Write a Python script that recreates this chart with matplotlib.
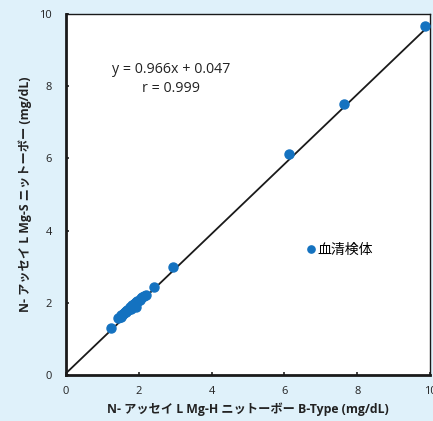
import matplotlib
matplotlib.use("Agg")
import matplotlib.pyplot as plt
import numpy as np

plt.rcParams['font.family'] = ['Open Sans', 'Noto Sans CJK JP', 'DejaVu Sans']

x_vals = [1.24, 1.43, 1.47, 1.50, 1.52, 1.55, 1.57, 1.60, 1.62, 1.64, 1.66, 1.68, 1.70,
          1.72, 1.75, 1.77, 1.80, 1.82, 1.85, 1.88, 1.90, 1.93, 1.95, 1.98, 2.02, 2.06,
          2.10, 2.15, 2.20, 1.78, 1.92, 2.42, 2.94, 6.13, 7.64, 9.86]
y_vals = [1.30, 1.58, 1.60, 1.62, 1.65, 1.66, 1.70, 1.72, 1.74, 1.75, 1.78, 1.80, 1.80,
          1.84, 1.86, 1.88, 1.90, 1.93, 1.95, 1.98, 2.00, 2.03, 2.05, 2.06, 2.08, 2.12,
          2.15, 2.20, 2.22, 1.82, 1.88, 2.44, 2.99, 6.12, 7.51, 9.67]
slope = 0.966
intercept = 0.047
eq_text = "y = 0.966x + 0.047\nr = 0.999"
legend_label = "血清検体"
xlabel = "N- アッセイ L Mg-H ニットーボー B-Type (mg/dL)"
ylabel = "N- アッセイ L Mg-S ニットーボー (mg/dL)"
ticks = [0, 2, 4, 6, 8, 10]

bg = "#dff1fa"
blue = "#1472c0"

fig = plt.figure(figsize=(4.33, 4.21), dpi=100, facecolor=bg)
ax = fig.add_axes([0.1524, 0.1093, 0.841, 0.8575])
ax.set_facecolor("white")

lx = np.array([0, 10])
ax.plot(lx, slope * lx + intercept, color="#1a1a1a", lw=1.3, zorder=2)
ax.plot(x_vals, y_vals, 'o', color=blue, ms=6.5, mec=blue, zorder=3,
        label=legend_label, clip_on=False)

ax.set_xlim(0, 10)
ax.set_ylim(0, 10)
ax.set_xticks(ticks)
ax.set_yticks(ticks)
ax.tick_params(direction='in', length=2.5, width=1.2, labelsize=8, pad=8, colors="#222222")
ax.tick_params(axis='y', pad=10)
for s in ['left', 'bottom']:
    ax.spines[s].set_linewidth(2.0)
for s in ['top', 'right']:
    ax.spines[s].set_linewidth(1.0)
for s in ax.spines.values():
    s.set_color("#1a1a1a")

ax.text(2.88, 8.19, eq_text, ha='center', va='center', fontsize=10.3, color="#222222",
        linespacing=1.35)

leg = ax.legend(loc='center left', bbox_to_anchor=(0.653, 0.346), frameon=False,
                fontsize=10, handletextpad=0.0, handlelength=1.0, markerscale=0.8,
                borderpad=0, borderaxespad=0)

ax.set_xlabel(xlabel, fontsize=8.8, fontweight='bold', color="#222222", labelpad=4)
ax.set_ylabel(ylabel, fontsize=8.8, fontweight='bold', color="#222222", labelpad=5)

fig.savefig("out.png", dpi=100, facecolor=bg)
